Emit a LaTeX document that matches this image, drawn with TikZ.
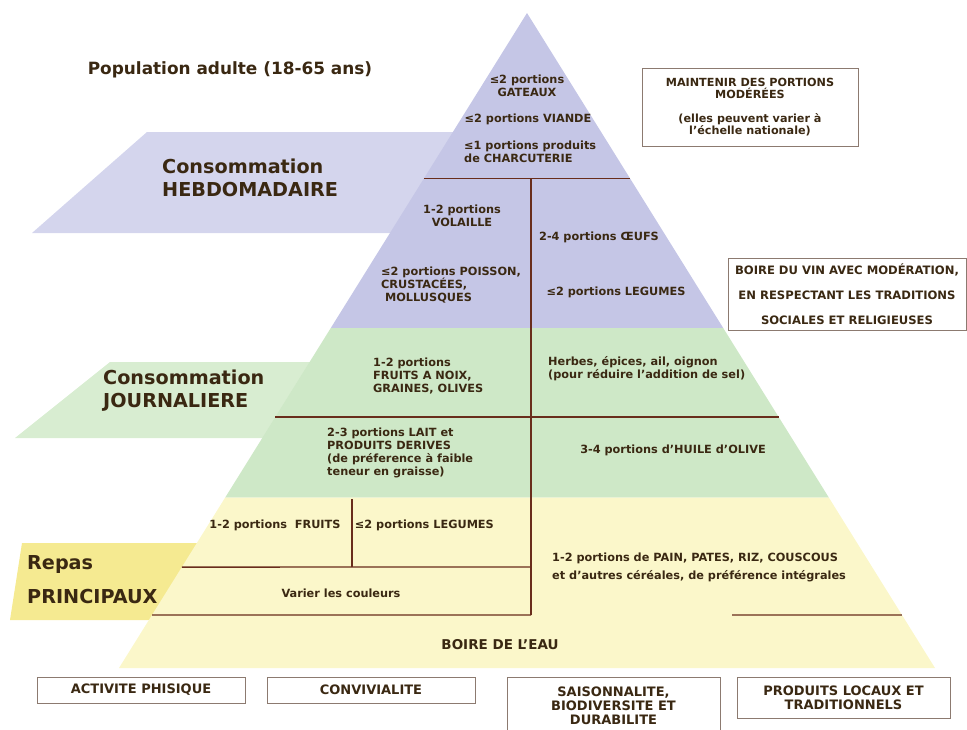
\documentclass[tikz,border=0pt]{standalone}
\usepackage{fontspec}
\setmainfont{DejaVu Sans}
\usepackage{tikz}
\usetikzlibrary{calc,positioning,shapes}
\definecolor{pyrpurple}{RGB}{197,198,230}
\definecolor{bandpurple}{RGB}{212,213,237}
\definecolor{pyrgreen}{RGB}{206,232,199}
\definecolor{bandgreen}{RGB}{216,237,209}
\definecolor{pyryellow}{RGB}{251,247,202}
\definecolor{bandyellow}{RGB}{245,234,145}
\definecolor{txtbrown}{RGB}{58,40,18}
\definecolor{linebrown}{RGB}{105,45,28}
\definecolor{boxgray}{RGB}{140,122,112}

\begin{document}
\begin{tikzpicture}[x=1pt,y=-1pt]
 \tikzstyle{lbl}=[inner sep=0,font=\bfseries\fontsize{11.3}{13}\selectfont,text=txtbrown,align=center]
 \tikzstyle{lbll}=[lbl,align=left,anchor=west]
 \tikzstyle{big}=[inner sep=0,font=\bfseries\fontsize{19.2}{23}\selectfont,text=txtbrown,align=left,anchor=west]
 \tikzstyle{cadre}=[rectangle,draw=boxgray,line width=0.9pt,fill=white,inner sep=0,font=\bfseries\fontsize{13}{14}\selectfont,text=txtbrown,align=center]
 \tikzstyle{sep}=[draw=linebrown,line width=1.3pt]
\useasboundingbox (0,0) rectangle (967,729);
% bandes de gauche
\fill[bandpurple] (147,132) -- (480,132) -- (480,233) -- (32,233) -- cycle;
\fill[bandgreen] (110,362) -- (350,362) -- (350,438) -- (15,438) -- cycle;
\fill[bandyellow] (22,543) -- (250,543) -- (250,620) -- (10,620) -- cycle;
% pyramide
\coordinate (apex) at (527,13);
\coordinate (bl) at (119,668);
\coordinate (br) at (935,668);
\coordinate (pl) at ($(apex)!0.481!(bl)$);
\coordinate (pr) at ($(apex)!0.481!(br)$);
\coordinate (gl) at ($(apex)!0.740!(bl)$);
\coordinate (gr) at ($(apex)!0.740!(br)$);
\fill[pyrpurple] (apex) -- (pr) -- (pl) -- cycle;
\fill[pyrgreen] (pl) -- (pr) -- (gr) -- (gl) -- cycle;
\fill[pyryellow] (gl) -- (gr) -- (br) -- (bl) -- cycle;
% traits
\draw[sep] ($(apex)!0.253!(bl)$) -- ($(apex)!0.253!(br)$);
\draw[sep] (531,179) -- (531,615);
\draw[sep] ($(apex)!0.617!(bl)$) -- ($(apex)!0.617!(br)$);
\draw[sep] ($(apex)!0.846!(bl)$) -- (531,567);
\draw[sep] (352,499) -- (352,567);
\draw[sep] ($(apex)!0.919!(bl)$) -- (531,615);
\draw[sep] (732,615) -- ($(apex)!0.919!(br)$);

\node[inner sep=0,font=\bfseries\fontsize{16.9}{19}\selectfont,text=txtbrown] (pop) at (230,70) {Population adulte (18-65 ans)};
\node[big] (hebdo) at (162,178) {Consommation\\HEBDOMADAIRE};
\node[big] (journ) at (103,391) {Consommation\\JOURNALIERE};
\node[big] (repas) at (27,580) {Repas\\[11pt]PRINCIPAUX};

\node[lbl] (gateaux) at (527,86) {≤2 portions\\GATEAUX};
\node[lbl] (viande) at (528,119) {≤2 portions VIANDE};
\node[lbll] (charcut) at (464,152) {≤1 portions produits\\de CHARCUTERIE};
\node[lbl] (volaille) at (462,216) {1-2 portions\\VOLAILLE};
\node[lbl] (oeufs) at (599,237) {2-4 portions ŒUFS};
\node[lbll] (poisson) at (381,285) {≤2 portions POISSON,\\CRUSTACÉES,\\\ MOLLUSQUES};
\node[lbl] (legumesA) at (616,292) {≤2 portions LEGUMES};
\node[lbll] (noix) at (373,376) {1-2 portions\\FRUITS A NOIX,\\GRAINES, OLIVES};
\node[lbll] (herbes) at (548,369) {Herbes, épices, ail, oignon\\(pour réduire l'addition de sel)};
\node[lbll] (lait) at (327,453) {2-3 portions LAIT et\\PRODUITS DERIVES\\(de préference à faible\\teneur en graisse)};
\node[lbl] (huile) at (673,450) {3-4 portions d'HUILE d'OLIVE};
\node[lbl] (fruits) at (275,525) {1-2 portions\ \ FRUITS};
\node[lbl] (legumesB) [right=14pt of fruits] {≤2 portions LEGUMES};
\node[lbl] (couleurs) at (341,593) {Varier les couleurs};
\node[lbll] (pain) at (552,567) {1-2 portions de PAIN, PATES, RIZ, COUSCOUS\\[5pt]et d'autres céréales, de préférence intégrales};
\node[lbl,font=\bfseries\fontsize{13.5}{15}\selectfont] (eau) at (500,645) {BOIRE DE L'EAU};

\node[cadre,minimum width=216pt,minimum height=78pt,font=\bfseries\fontsize{11.2}{12.5}\selectfont] (moderees) at (750,107) {MAINTENIR DES PORTIONS\\MODÉRÉES\\[11pt](elles peuvent varier à\\l'échelle nationale)};
\node[cadre,minimum width=238pt,minimum height=72pt,font=\bfseries\fontsize{11.6}{25}\selectfont] (vin) at (847,294) {BOIRE DU VIN AVEC MODÉRATION,\\EN RESPECTANT LES TRADITIONS\\SOCIALES ET RELIGIEUSES};
\node[cadre,minimum width=208pt,minimum height=26pt] (sport) at (141,690) {ACTIVITE PHISIQUE};
\node[cadre,minimum width=208pt,minimum height=26pt] (convi) at (371,690) {CONVIVIALITE};
\node[cadre,minimum width=213pt,minimum height=57pt,anchor=north] (saison) at (613.5,677) {SAISONNALITE,\\BIODIVERSITE ET\\DURABILITE};
\node[cadre,minimum width=213pt,minimum height=41pt] (locaux) at (843.5,697.5) {PRODUITS LOCAUX ET\\TRADITIONNELS};
\end{tikzpicture}
\end{document}
